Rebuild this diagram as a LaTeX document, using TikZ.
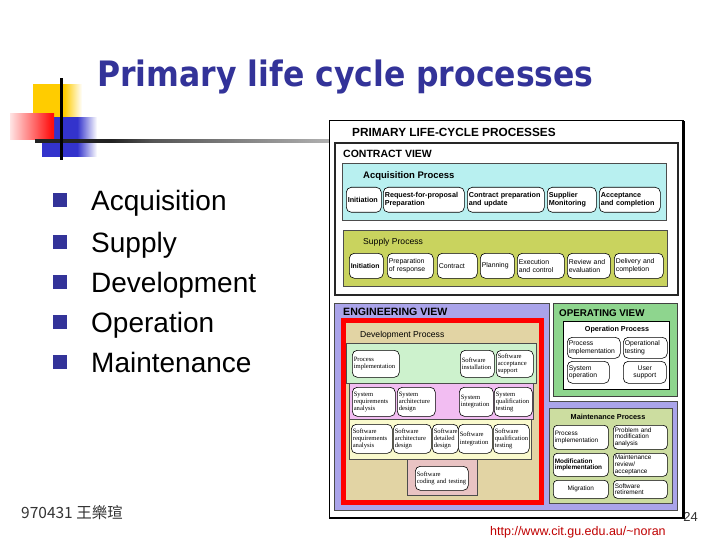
\documentclass[tikz,border=0pt]{standalone}
\usepackage{fontspec}
\setmainfont{Liberation Sans}
\newfontfamily\titlefont{DejaVu Sans}
\newfontfamily\serifx{Liberation Serif}
\newfontfamily\cjkfont{Noto Sans CJK TC}
\definecolor{titleblue}{HTML}{333399}
\definecolor{logoyel}{HTML}{FFCC00}
\definecolor{logored}{HTML}{FF1010}
\definecolor{redlight}{HTML}{FFE4E4}
\definecolor{logoblue}{HTML}{3333CC}
\definecolor{linedark}{HTML}{222222}
\definecolor{linegray}{HTML}{555555}
\definecolor{linelight}{HTML}{B0B0B0}
\definecolor{acqcyan}{HTML}{B8F0F0}
\definecolor{supolive}{HTML}{C9D35E}
\definecolor{englav}{HTML}{AAA4EA}
\definecolor{devtan}{HTML}{E2D4A4}
\definecolor{bandgreen}{HTML}{CDF2CD}
\definecolor{bandpink}{HTML}{F2BDF2}
\definecolor{bandyellow}{HTML}{FAFACD}
\definecolor{bandcoral}{HTML}{E9C3C3}
\definecolor{opgreen}{HTML}{8ED58E}
\definecolor{mtgreen}{HTML}{CCDDA0}
\definecolor{urlred}{HTML}{C00000}
\definecolor{footgray}{HTML}{333333}
\pgfdeclarehorizontalshading{yelfade}{100bp}{color(0bp)=(logoyel); color(25bp)=(logoyel); color(57bp)=(logoyel); color(75bp)=(white); color(100bp)=(white)}
\pgfdeclarehorizontalshading{redfade}{100bp}{color(0bp)=(redlight); color(25bp)=(redlight); color(72bp)=(logored); color(75bp)=(logored); color(100bp)=(logored)}
\pgfdeclarehorizontalshading{bluefade}{100bp}{color(0bp)=(logoblue); color(25bp)=(logoblue); color(57bp)=(logoblue); color(75bp)=(white); color(100bp)=(white)}
\pgfdeclarehorizontalshading{linefade}{100bp}{color(0bp)=(linedark); color(25bp)=(linedark); color(38bp)=(linedark); color(45bp)=(linegray); color(75bp)=(linelight); color(100bp)=(linelight)}
\newcommand\pnode[7]{%
  \pgfmathsetmacro\tw{#5-3}%
  \node[proc,#1,text width=\tw pt,minimum height=#6pt,anchor=north west] (#2) at (#3,#4) {#7};}
\begin{document}
\begin{tikzpicture}[x=1pt,y=-1pt,
  proc/.style={draw=black,line width=0.6pt,fill=white,rounded corners=5pt,inner xsep=1.5pt,inner ysep=0.5pt,align=left},
  acqf/.style={font=\bfseries\fontsize{7.2}{7.9}\selectfont},
  supf/.style={font=\fontsize{6.9}{7.6}\selectfont},
  supb/.style={font=\bfseries\fontsize{6.9}{7.6}\selectfont},
  devf/.style={font=\serifx\fontsize{6.6}{7.2}\selectfont},
  opf/.style={font=\fontsize{6.8}{7.3}\selectfont},
  mtf/.style={font=\fontsize{6.4}{6.8}\selectfont,rounded corners=4pt},
  mtb/.style={font=\bfseries\fontsize{6.4}{6.8}\selectfont,rounded corners=4pt},
  region/.style={draw=black!70,line width=0.6pt},
  lbl/.style={anchor=base west,inner sep=0pt},
  clbl/.style={anchor=base,inner sep=0pt},
  bsq/.style={fill=titleblue,minimum size=14pt,inner sep=0pt},
  btxt/.style={anchor=base west,inner sep=0pt,font=\fontsize{28}{28}\selectfont}]
\useasboundingbox (0,0) rectangle (720,540);
\fill[white] (0,0) rectangle (720,540);
% ---- logo ----
\shade[shading=yelfade] (33,85) rectangle (82,122);
\shade[shading=bluefade] (42,118) rectangle (97,157);
\shade[shading=redfade] (10,114) rectangle (54,140);
\shade[shading=linefade] (35,139.6) rectangle (329,142.6);
\fill[black] (60,78) rectangle (62.6,160);
% ---- title ----
\node[lbl,font=\titlefont\bfseries\fontsize{35}{35}\selectfont,text=titleblue] (title) at (97,87) {\scalebox{0.9}[1]{Primary life cycle processes}};
% ---- bullets ----
\node[bsq] (s1) at (60,200) {};
\node[bsq] (s2) at (60,241.5) {};
\node[bsq] (s3) at (60,282) {};
\node[bsq] (s4) at (60,321.5) {};
\node[bsq] (s5) at (60,361.5) {};
\node[btxt] (b1) at (91,211) {Acquisition};
\node[btxt] (b2) at (91,252) {Supply};
\node[btxt] (b3) at (91,292) {Development};
\node[btxt] (b4) at (91,332) {Operation};
\node[btxt] (b5) at (91,372) {Maintenance};
% ---- footer ----
\node[lbl,font=\cjkfont\fontsize{15.5}{16}\selectfont,text=footgray] (foot) at (21,518) {970431 王樂瑄};
\node[anchor=base east,inner sep=0pt,font=\fontsize{13}{13}\selectfont,text=footgray] (pg) at (698,521) {24};
\node[lbl,font=\fontsize{12.5}{13}\selectfont,text=urlred] (url) at (490,535) {http://www.cit.gu.edu.au/\string~noran};
% ---- diagram frame ----
\draw[fill=white,line width=1pt] (329,121) rectangle (683,518);
\draw[line width=2.5pt] (329,517.8) -- (683.5,517.8) -- (683.5,121);
\node[lbl,font=\bfseries\fontsize{11.8}{12}\selectfont] (plc) at (352,136.5) {PRIMARY LIFE-CYCLE PROCESSES};
% contract view
\draw[fill=white,draw=black!85,line width=1.1pt] (335,143) rectangle (678,295);
\node[lbl,font=\bfseries\fontsize{10.5}{11}\selectfont] (cv) at (343,158) {CONTRACT VIEW};
\draw[region,fill=acqcyan] (342,163) rectangle (666,220);
\node[lbl,font=\bfseries\fontsize{9.5}{10}\selectfont] (aqp) at (363,178.5) {Acquisition Process};
\pnode{acqf}{aq1}{346}{187}{35}{25}{Initiation}
\pnode{acqf}{aq2}{383}{187}{81}{25}{Request-for-proposal\\Preparation}
\pnode{acqf}{aq3}{467}{187}{77}{25}{Contract preparation\\and update}
\pnode{acqf}{aq4}{547}{187}{49}{25}{Supplier\\Monitoring}
\pnode{acqf}{aq5}{599}{187}{61}{25}{Acceptance\\and completion}
\draw[region,fill=supolive] (343,230) rectangle (667,286);
\node[lbl,font=\fontsize{8.6}{9}\selectfont] (spp) at (363,244.5) {Supply Process};
\pnode{supb}{sp1}{349}{253}{34}{25}{Initiation}
\pnode{supf}{sp2}{387}{253}{46}{25}{Preparation\\of response}
\pnode{supf}{sp3}{437}{253}{40}{25}{Contract}
\pnode{supf}{sp4}{480}{253}{34}{25}{Planning}
\pnode{supf}{sp5}{517}{253}{47}{25}{Execution\\and control}
\pnode{supf}{sp6}{567}{253}{43}{25}{Review and\\evaluation}
\pnode{supf}{sp7}{614}{253}{49}{25}{Delivery and\\completion}
% engineering view
\draw[region,fill=englav] (334,303) -- (549,303) -- (549,401) -- (677,401) -- (677,510) -- (334,510) -- cycle;
\node[lbl,font=\bfseries\fontsize{10.6}{11}\selectfont] (ev) at (343,315.5) {ENGINEERING VIEW};
\draw[line width=5pt,draw=red,fill=devtan] (343.5,320.5) rectangle (541.5,502.5);
\node[lbl,font=\fontsize{8.6}{9}\selectfont] (dvp) at (360,337.5) {Development Process};
\draw[region,line width=0.5pt,fill=bandgreen] (346,343) rectangle (536,383);
\draw[region,line width=0.5pt,fill=bandpink] (349,383) rectangle (533,419.5);
\draw[region,line width=0.5pt,fill=bandyellow] (349,419.5) rectangle (531,459);
\draw[region,line width=0.5pt,fill=bandcoral] (407,459) rectangle (477,495);
\pnode{devf}{dv1}{352}{350}{47}{27}{Process\\implementation}
\pnode{devf}{dv2}{460}{350}{34}{27}{Software\\installation}
\pnode{devf}{dv3}{496}{350}{37}{27}{Software\\acceptance\\support}
\pnode{devf}{dv4}{352}{387}{43}{29}{System\\requirements\\analysis}
\pnode{devf}{dv5}{397}{387}{38}{29}{System\\architecture\\design}
\pnode{devf}{dv6}{459}{387}{34}{29}{System\\integration}
\pnode{devf}{dv7}{494}{387}{38}{29}{System\\qualification\\testing}
\pnode{devf}{dv8}{351}{424}{41}{29}{Software\\requirements\\analysis}
\pnode{devf}{dv9}{393}{424}{38}{29}{Software\\architecture\\design}
\pnode{devf}{dv10}{432}{424}{26}{29}{Software\\detailed\\design}
\pnode{devf}{dv11}{458}{424}{34}{29}{Software\\integration}
\pnode{devf}{dv12}{493}{424}{36}{29}{Software\\qualification\\testing}
\pnode{devf}{dv13}{415}{466}{53}{24}{Software\\coding and testing}
% operating view
\draw[draw=black!75,line width=1pt,fill=opgreen] (553,303) rectangle (677,396);
\node[lbl,font=\bfseries\fontsize{9.8}{10}\selectfont] (ov) at (559,316) {OPERATING VIEW};
\draw[draw=black,line width=0.7pt,fill=white] (563,321) rectangle (669,389);
\node[clbl,font=\bfseries\fontsize{7.2}{8}\selectfont] (opp) at (617,331) {Operation Process};
\pnode{opf}{op1}{567}{337}{53}{21}{Process\\implementation}
\pnode{opf}{op2}{623}{337}{44}{21}{Operational\\testing}
\pnode{opf}{op3}{567}{361}{42}{22}{System\\operation}
\pnode{opf,align=center}{op4}{623}{361}{43}{22}{User\\support}
% maintenance
\draw[region,line width=0.8pt,fill=mtgreen] (549,408) rectangle (672,503);
\node[clbl,font=\bfseries\fontsize{7.3}{8}\selectfont] (mtp) at (608,419.5) {Maintenance Process};
\pnode{mtf}{mt1}{553}{425}{55}{24}{Process\\implementation}
\pnode{mtf}{mt2}{613}{425}{54}{24}{Problem and\\modification\\analysis}
\pnode{mtb}{mt3}{553}{453}{55}{23}{Modification\\implementation}
\pnode{mtf}{mt4}{613}{453}{54}{23}{Maintenance\\review/\\acceptance}
\pnode{mtf,align=center}{mt5}{553}{480}{55}{18}{Migration}
\pnode{mtf}{mt6}{613}{480}{54}{18}{Software\\retirement}
\end{tikzpicture}
\end{document}
